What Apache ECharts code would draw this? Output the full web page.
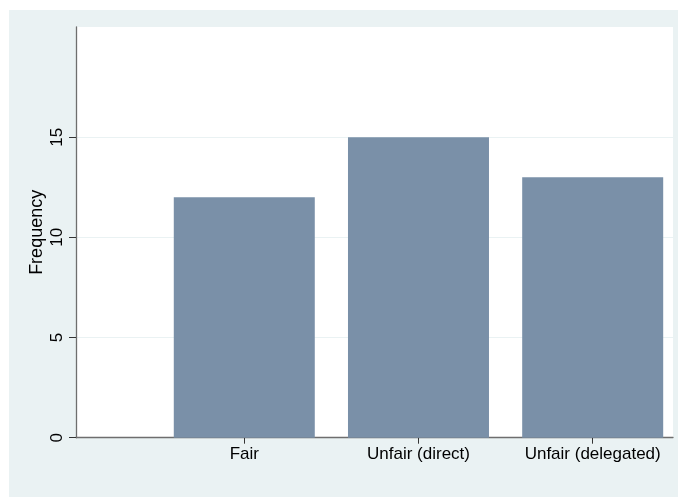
<!DOCTYPE html>
<html>
<head>
<meta charset="utf-8">
<script src="https://cdn.jsdelivr.net/npm/echarts@6/dist/echarts.min.js"></script>
<style>
  html, body { margin: 0; padding: 0; background: #ffffff; width: 678px; height: 497px; overflow: hidden; }
  #chart { position: absolute; left: 9px; top: 10px; width: 669px; height: 487px; background: #EAF2F3; }
</style>
</head>
<body>
<div id="chart"></div>
<script>
const categories = ['Fair', 'Unfair (direct)', 'Unfair (delegated)'];
const frequency = [12, 15, 13];
const yTicks = [0, 5, 10, 15];
const xPositions = [1, 2, 3];

const FONT = "'Liberation Sans', Arial, sans-serif";
const chart = echarts.init(document.getElementById('chart'), null, { renderer: 'canvas' });

chart.setOption({
  animation: false,
  grid: {
    left: 67, top: 17, right: 5, bottom: 59.3,
    show: true, backgroundColor: '#ffffff', borderWidth: 0
  },
  xAxis: {
    type: 'value',
    min: 0.034,
    max: 3.461,
    axisLine: { show: true, onZero: false, lineStyle: { color: '#6e6e6e', width: 1.3 } },
    axisTick: { show: true, customValues: xPositions, length: 6, lineStyle: { color: '#333333' } },
    axisLabel: {
      customValues: xPositions,
      formatter: v => categories[Math.round(v) - 1] || '',
      color: '#000000', fontSize: 17, fontFamily: FONT, margin: 8
    },
    splitLine: { show: false }
  },
  yAxis: {
    type: 'value',
    min: 0,
    max: 20.5,
    name: 'Frequency',
    nameLocation: 'middle',
    nameGap: 30,
    nameMoveOverlap: false,
    nameTextStyle: { color: '#000000', fontSize: 18, fontFamily: FONT },
    axisLine: { show: true, lineStyle: { color: '#6e6e6e', width: 1.3 } },
    axisTick: { show: true, customValues: yTicks, length: 7, lineStyle: { color: '#333333' } },
    axisLabel: {
      customValues: yTicks,
      rotate: 90,
      color: '#000000', fontSize: 17, fontFamily: FONT, margin: 10
    },
    splitLine: { show: true, lineStyle: { color: '#EAF2F3', width: 1 } }
  },
  series: [{
    type: 'bar',
    barWidth: 141,
    data: frequency.map((f, i) => [xPositions[i], f]),
    itemStyle: { color: '#7A90A8' }
  }]
});
</script>
</body>
</html>
